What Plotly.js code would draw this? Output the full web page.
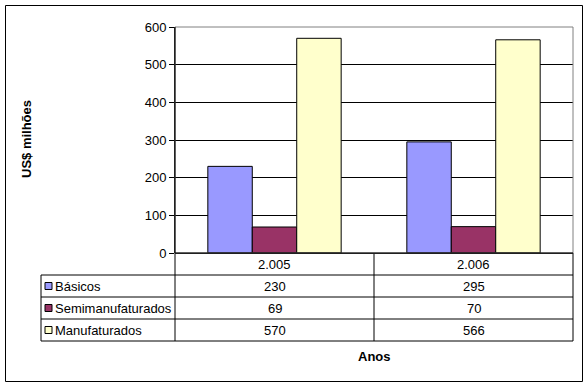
<!DOCTYPE html>
<html>
<head>
<meta charset="utf-8">
<script src="https://cdn.plot.ly/plotly-3.0.1.min.js"></script>
<style>
html,body{margin:0;padding:0;background:#ffffff;}
#chart{width:588px;height:386px;}
</style>
</head>
<body>
<div id="chart"></div>
<script>
// ---- data ----
const years = ['2.005', '2.006'];
const seriesNames = ['Básicos', 'Semimanufaturados', 'Manufaturados'];
const basicos = [230, 295];
const semimanufaturados = [69, 70];
const manufaturados = [570, 566];
const seriesColors = ['#9999FF', '#993366', '#FFFFCC'];
const yTitle = 'US$ milhões';
const xTitle = 'Anos';

// ---- layout helpers (pixel -> paper) ----
const W = 588, H = 386;
const px = x => x / W;
const py = y => 1 - y / H;

const seriesValues = [basicos, semimanufaturados, manufaturados];
const FONT = 'Liberation Sans, Arial, sans-serif';
const FS = 13;

const traces = seriesNames.map((name, i) => ({
  type: 'bar',
  name: name,
  x: years,
  y: seriesValues[i],
  marker: {color: seriesColors[i], line: {color: '#000000', width: 1}},
  hoverinfo: 'x+y+name'
}));

// table geometry (pixels)
const plotL = 175, plotR = 573, plotT = 27, plotB = 253;
const tabL = 41;
const rowY = [253, 275, 297, 319, 341];
const colMid = 374;

const shapes = [];
const lineStyle = {color: '#000000', width: 1};
for (let r = 1; r < rowY.length; r++) {
  shapes.push({type: 'line', xref: 'paper', yref: 'paper',
    x0: px(tabL), x1: px(plotR), y0: py(rowY[r]), y1: py(rowY[r]), line: lineStyle});
}
shapes.push({type: 'line', xref: 'paper', yref: 'paper', x0: px(tabL), x1: px(tabL), y0: py(rowY[1]), y1: py(rowY[4]), line: lineStyle});
[plotL, colMid, plotR].forEach(xx => {
  shapes.push({type: 'line', xref: 'paper', yref: 'paper', x0: px(xx), x1: px(xx), y0: py(rowY[0]), y1: py(rowY[4]), line: lineStyle});
});
shapes.push({type: 'rect', xref: 'paper', yref: 'paper', x0: px(plotL), x1: px(plotR), y0: py(plotB), y1: py(plotT),
  line: {color: '#808080', width: 1}, fillcolor: 'rgba(0,0,0,0)', layer: 'above'});
shapes.push({type: 'line', xref: 'paper', yref: 'paper', x0: px(plotL), x1: px(plotL), y0: py(plotB), y1: py(plotT), line: lineStyle, layer: 'above'});
shapes.push({type: 'line', xref: 'paper', yref: 'paper', x0: px(plotL), x1: px(plotR), y0: py(plotB), y1: py(plotB), line: lineStyle, layer: 'above'});
shapes.push({type: 'rect', xref: 'paper', yref: 'paper', x0: px(5.5), x1: px(582.5), y0: py(381.5), y1: py(5.5),
  line: {color: '#000000', width: 1}, fillcolor: 'rgba(0,0,0,0)'});

const annotations = [];
years.forEach((yr, j) => {
  annotations.push({xref: 'x', yref: 'paper', x: j, y: py((rowY[0] + rowY[1]) / 2),
    text: yr, showarrow: false, font: {family: FONT, size: FS, color: '#000'}, xanchor: 'center', yanchor: 'middle'});
});
seriesNames.forEach((name, i) => {
  const yc = (rowY[i + 1] + rowY[i + 2]) / 2;
  shapes.push({type: 'rect', xref: 'paper', yref: 'paper', x0: px(45), x1: px(52), y0: py(yc + 3.5), y1: py(yc - 3.5),
    fillcolor: seriesColors[i], line: {color: '#000000', width: 1}});
  annotations.push({xref: 'paper', yref: 'paper', x: px(53), y: py(yc), text: name, showarrow: false,
    font: {family: FONT, size: FS, color: '#000'}, xanchor: 'left', yanchor: 'middle'});
  years.forEach((yr, j) => {
    annotations.push({xref: 'x', yref: 'paper', x: j, y: py(yc), text: String(seriesValues[i][j]), showarrow: false,
      font: {family: FONT, size: FS, color: '#000'}, xanchor: 'center', yanchor: 'middle'});
  });
});
annotations.push({xref: 'paper', yref: 'paper', x: px(374), y: py(356), text: '<b>' + xTitle + '</b>', showarrow: false,
  font: {family: FONT, size: FS, color: '#000'}, xanchor: 'center', yanchor: 'middle'});
annotations.push({xref: 'paper', yref: 'paper', x: px(27), y: py(139), text: '<b>' + yTitle + '</b>', showarrow: false,
  textangle: -90, font: {family: FONT, size: FS, color: '#000'}, xanchor: 'center', yanchor: 'middle'});

const layout = {
  width: W, height: H,
  margin: {l: 0, r: 0, t: 0, b: 0},
  paper_bgcolor: '#ffffff', plot_bgcolor: '#ffffff',
  showlegend: false,
  barmode: 'group', bargap: 0.33, bargroupgap: 0,
  font: {family: FONT, size: FS, color: '#000'},
  xaxis: {
    domain: [px(plotL), px(plotR)], type: 'category', range: [-0.5, 1.5],
    showticklabels: false, ticks: '', showgrid: false, zeroline: false, showline: false,
    fixedrange: true
  },
  yaxis: {
    domain: [py(plotB), py(plotT)], range: [0, 600], dtick: 100,
    ticks: 'outside', ticklen: 5, tickcolor: '#000', tickwidth: 1,
    showline: true, linecolor: '#000', linewidth: 1,
    showgrid: true, gridcolor: '#000', gridwidth: 1,
    zeroline: true, zerolinecolor: '#000', zerolinewidth: 1,
    tickfont: {family: FONT, size: FS, color: '#000'},
    fixedrange: true
  },
  shapes: shapes,
  annotations: annotations
};

Plotly.newPlot('chart', traces, layout, {staticPlot: true, displayModeBar: false});
</script>
</body>
</html>
